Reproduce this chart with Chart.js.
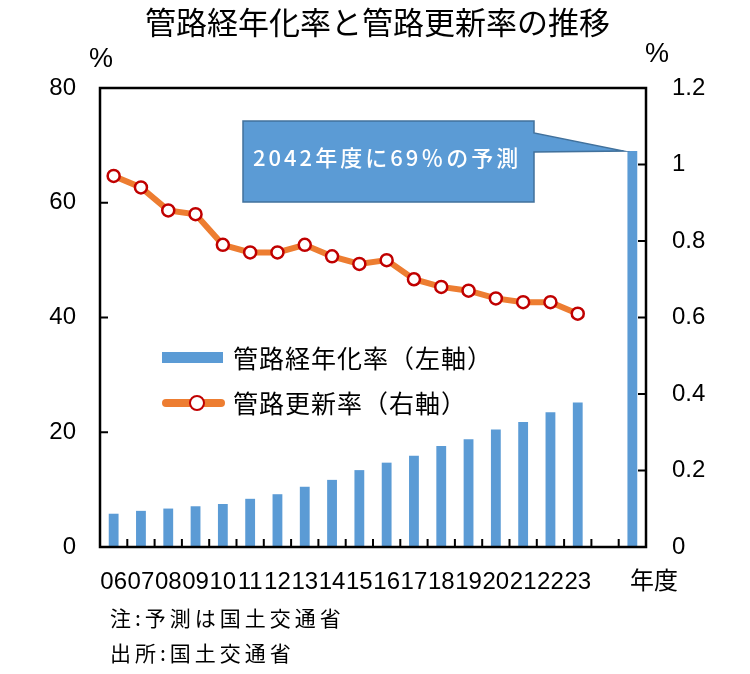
<!DOCTYPE html>
<html lang="ja">
<head>
<meta charset="utf-8">
<script src="https://cdn.jsdelivr.net/npm/chart.js@4/dist/chart.umd.min.js"></script>
<style>
  body { margin: 0; background: #fff; }
  #wrap { position: relative; width: 750px; height: 674px; overflow: hidden; }
  #chart { position: absolute; left: 0; top: 0; }
  .txt { position: absolute; white-space: nowrap; color: #000; font-family: "Noto Sans CJK JP", sans-serif; }
  .num { font-family: "Liberation Sans", Arial, sans-serif; }
</style>
</head>
<body>
<div id="wrap">
  <canvas id="chart" width="750" height="674"></canvas>
  <div class="txt" style="left:145px;top:5px;font-size:31px;line-height:31px;">管路経年化率と管路更新率の推移</div>
  <div class="txt num" style="left:89px;top:45px;font-size:27px;line-height:27px;">%</div>
  <div class="txt num" style="left:645px;top:40px;font-size:27px;line-height:27px;">%</div>

  <!-- legend -->
  <div style="position:absolute;left:162px;top:352px;width:61px;height:11px;background:#5B9BD5;"></div>
  <div class="txt" style="left:233px;top:345px;font-size:25px;line-height:25px;letter-spacing:1px;">管路経年化率（左軸）</div>
  <div style="position:absolute;left:162px;top:399px;width:63px;height:8px;border-radius:4px;background:#ED7D31;"></div>
  <div style="position:absolute;left:189px;top:395px;width:12px;height:12px;border-radius:50%;background:#fff;border:2.5px solid #C00000;"></div>
  <div class="txt" style="left:233px;top:390px;font-size:25px;line-height:25px;letter-spacing:1px;">管路更新率（右軸）</div>

  <div class="txt" style="left:253px;top:145px;font-size:22px;line-height:22px;letter-spacing:3px;color:#fff;font-weight:500;">2042年度に69％の予測</div>
  <div class="txt" style="left:630px;top:567px;font-size:24px;line-height:24px;">年度</div>

  <div class="txt" style="left:110px;top:607px;font-size:21px;line-height:21px;letter-spacing:4px;">注:予測は国土交通省</div>
  <div class="txt" style="left:110px;top:642px;font-size:21px;line-height:21px;letter-spacing:4px;">出所:国土交通省</div>
</div>
<script>
// fiscal years (one empty slot before the 2042 forecast)
const years = ['06', '07', '08', '09', '10', '11', '12', '13', '14', '15', '16', '17', '18', '19', '20', '21', '22', '23', '', '42'];
const tickLabels = years.map(y => y === '42' ? '' : y);

// 管路経年化率 (%), left axis
const agingRate = [5.8, 6.3, 6.7, 7.1, 7.5, 8.4, 9.2, 10.5, 11.7, 13.4, 14.7, 15.9, 17.6, 18.8, 20.5, 21.8, 23.5, 25.2, null, 69];
// 管路更新率 (%), right axis
const renewalRate = [0.97, 0.94, 0.88, 0.87, 0.79, 0.77, 0.77, 0.79, 0.76, 0.74, 0.75, 0.70, 0.68, 0.67, 0.65, 0.64, 0.64, 0.61, null, null];

const leftMax = 80, leftStep = 20;
const rightMax = 1.2, rightStep = 0.2;

const numFont = { family: 'Liberation Sans', size: 24 };

// box around the plot and inward tick marks
const framePlugin = {
  id: 'frame',
  afterDatasetsDraw(chart) {
    const ctx = chart.ctx;
    const { left, right, top, bottom } = chart.chartArea;
    ctx.save();
    ctx.strokeStyle = '#000';
    ctx.lineWidth = 2.5;
    ctx.strokeRect(left, top, right - left, bottom - top);
    ctx.lineWidth = 2;
    ctx.beginPath();
    const y = chart.scales.y, y1 = chart.scales.y1, x = chart.scales.x;
    y.ticks.forEach((t, i) => {
      const p = y.getPixelForTick(i);
      ctx.moveTo(left, p); ctx.lineTo(left + 8, p);
    });
    y1.ticks.forEach((t, i) => {
      const p = y1.getPixelForTick(i);
      ctx.moveTo(right - 8, p); ctx.lineTo(right, p);
    });
    for (let i = 1; i < years.length; i++) {
      const p = (x.getPixelForTick(i - 1) + x.getPixelForTick(i)) / 2;
      ctx.moveTo(p, bottom); ctx.lineTo(p, bottom - 8);
    }
    ctx.stroke();
    ctx.restore();
  }
};

// callout pointing at the 2042 bar
const calloutPlugin = {
  id: 'callout',
  afterDatasetsDraw(chart) {
    const bar = chart.getDatasetMeta(1).data[years.length - 1];
    if (!bar) return;
    const tipX = bar.x - bar.width / 2 - 4;
    const tipY = bar.y;
    const ctx = chart.ctx;
    ctx.save();
    ctx.beginPath();
    ctx.moveTo(243, 121);
    ctx.lineTo(534, 121);
    ctx.lineTo(534, 133);
    ctx.lineTo(tipX, tipY);
    ctx.lineTo(534, 152);
    ctx.lineTo(534, 202);
    ctx.lineTo(243, 202);
    ctx.closePath();
    ctx.fillStyle = '#5B9BD5';
    ctx.fill();
    ctx.strokeStyle = '#41719C';
    ctx.lineWidth = 1.5;
    ctx.stroke();
    ctx.restore();
  }
};

new Chart(document.getElementById('chart'), {
  data: {
    labels: tickLabels,
    datasets: [
      {
        type: 'line',
        label: '管路更新率（右軸）',
        data: renewalRate,
        yAxisID: 'y1',
        order: 0,
        borderColor: '#ED7D31',
        borderWidth: 6,
        tension: 0,
        pointRadius: 6,
        pointBorderWidth: 2.5,
        pointBorderColor: '#C00000',
        pointBackgroundColor: '#FFFFFF'
      },
      {
        type: 'bar',
        label: '管路経年化率（左軸）',
        data: agingRate,
        yAxisID: 'y',
        order: 1,
        backgroundColor: '#5B9BD5',
        barPercentage: 0.36,
        categoryPercentage: 1
      }
    ]
  },
  options: {
    responsive: false,
    animation: false,
    layout: { padding: { top: 88, bottom: 77, left: 0, right: 0 } },
    plugins: { legend: { display: false }, tooltip: { enabled: false } },
    scales: {
      x: {
        offset: true,
        grid: { display: false },
        border: { display: false },
        ticks: { font: numFont, color: '#000', padding: 13, autoSkip: false, maxRotation: 0, minRotation: 0 },
        afterFit: s => { s.height = 50; }
      },
      y: {
        position: 'left',
        min: 0,
        max: leftMax,
        grid: { display: false },
        border: { display: false },
        ticks: { stepSize: leftStep, font: numFont, color: '#000', padding: 16 },
        afterFit: s => { s.width = 100; }
      },
      y1: {
        position: 'right',
        min: 0,
        max: rightMax,
        grid: { display: false },
        border: { display: false },
        ticks: {
          stepSize: rightStep, font: numFont, color: '#000', padding: 18,
          callback: v => String(Number(v.toFixed(1)))
        },
        afterFit: s => { s.width = 104; }
      }
    }
  },
  plugins: [framePlugin, calloutPlugin]
});
</script>
</body>
</html>
